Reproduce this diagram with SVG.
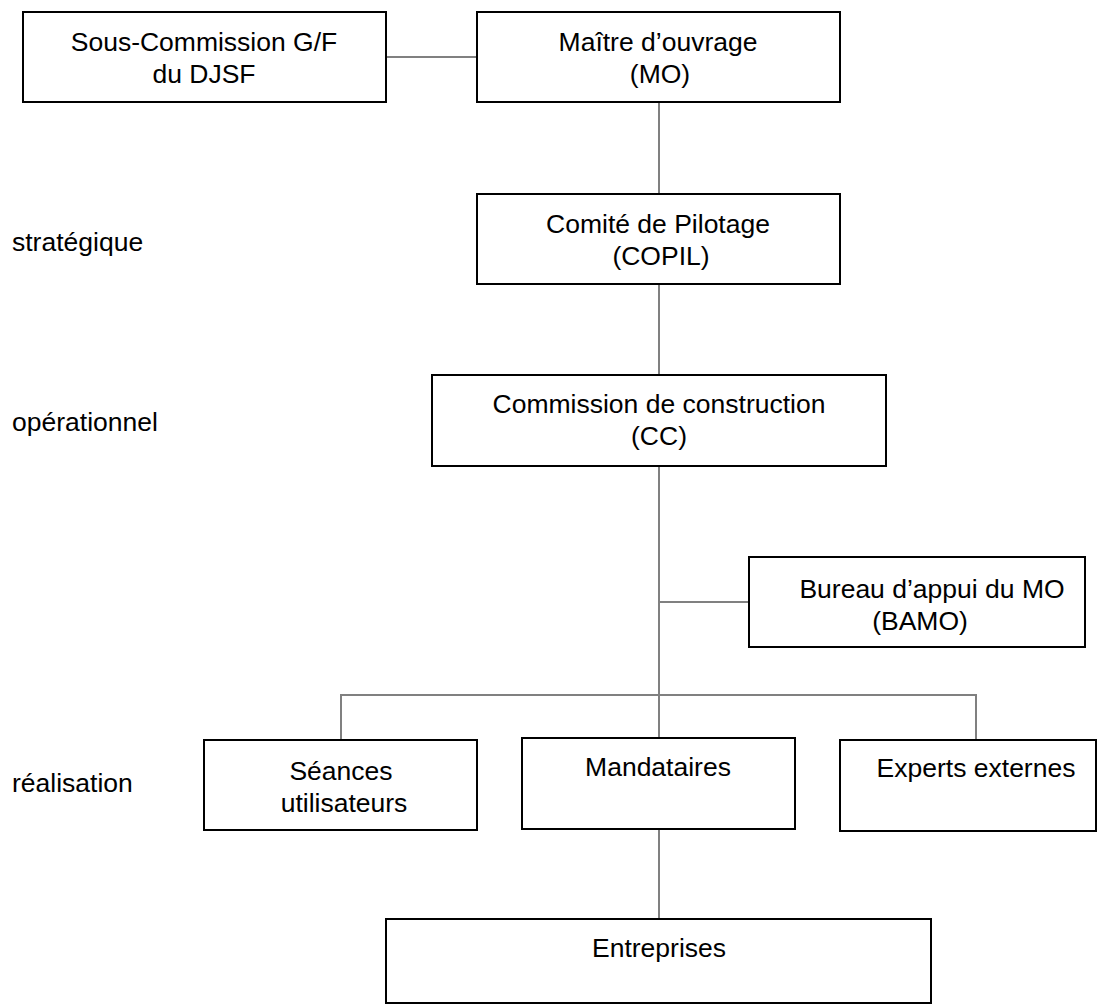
<svg xmlns="http://www.w3.org/2000/svg" width="1103" height="1005" viewBox="0 0 1103 1005">
<style>
.box{fill:#fff;stroke:#000;stroke-width:2}
.t{font-family:"Liberation Sans",Arial,sans-serif;font-size:26.5px;fill:#000;text-anchor:middle}
.lbl{font-family:"Liberation Sans",Arial,sans-serif;font-size:26.5px;fill:#000}
.c{stroke:#808080;stroke-width:2;fill:none}
</style>
<rect width="1103" height="1005" fill="#fff"/>
<g id="connectors">
<line class="c" x1="386" y1="57" x2="478" y2="57"/>
<line class="c" x1="659" y1="102" x2="659" y2="194"/>
<line class="c" x1="659" y1="284" x2="659" y2="375"/>
<line class="c" x1="659" y1="466" x2="659" y2="738"/>
<line class="c" x1="659" y1="602" x2="749" y2="602"/>
<polyline class="c" points="341,740 341,695 976,695 976,740"/>
<line class="c" x1="659" y1="829" x2="659" y2="919"/>
</g>
<g id="labels">
<text class="lbl" x="12" y="251">stratégique</text>
<text class="lbl" x="12" y="431">opérationnel</text>
<text class="lbl" x="12" y="792">réalisation</text>
</g>
<g id="n-souscommission">
<rect class="box" x="23" y="12" width="363" height="90"/>
<text class="t" x="204" y="51">Sous-Commission G/F</text>
<text class="t" x="204" y="83">du DJSF</text>
</g>
<g id="n-mo">
<rect class="box" x="477" y="12" width="363" height="90"/>
<text class="t" x="658" y="51">Maître d’ouvrage</text>
<text class="t" x="660" y="83">(MO)</text>
</g>
<g id="n-copil">
<rect class="box" x="477" y="194" width="363" height="90"/>
<text class="t" x="658" y="233">Comité de Pilotage</text>
<text class="t" x="661" y="265">(COPIL)</text>
</g>
<g id="n-cc">
<rect class="box" x="432" y="375" width="454" height="91"/>
<text class="t" x="659" y="413">Commission de construction</text>
<text class="t" x="659" y="445">(CC)</text>
</g>
<g id="n-bamo">
<rect class="box" x="749" y="557" width="336" height="90"/>
<text class="t" x="932" y="598">Bureau d’appui du MO</text>
<text class="t" x="920" y="630">(BAMO)</text>
</g>
<g id="n-seances">
<rect class="box" x="204" y="740" width="273" height="90"/>
<text class="t" x="341" y="780">Séances</text>
<text class="t" x="344" y="812">utilisateurs</text>
</g>
<g id="n-mandataires">
<rect class="box" x="522" y="738" width="273" height="91"/>
<text class="t" x="658" y="776">Mandataires</text>
</g>
<g id="n-experts">
<rect class="box" x="840" y="740" width="256" height="91"/>
<text class="t" x="976" y="777">Experts externes</text>
</g>
<g id="n-entreprises">
<rect class="box" x="386" y="919" width="545" height="84"/>
<text class="t" x="659" y="957">Entreprises</text>
</g>
</svg>
